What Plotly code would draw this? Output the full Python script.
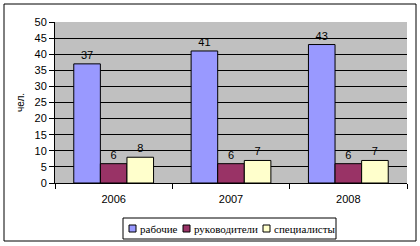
import plotly.graph_objects as go

years = ["2006", "2007", "2008"]
workers = [37, 41, 43]
managers = [6, 6, 6]
specialists = [8, 7, 7]
series_names = ["рабочие", "руководители", "специалисты"]
colors = ["#9999FF", "#993366", "#FFFFCC"]

W, H = 420, 246
L, R, T, B = 55, 13, 22, 63
pw, ph = W - L - R, H - T - B

fig = go.Figure()
for name, vals, c in zip(series_names, [workers, managers, specialists], colors):
    fig.add_trace(go.Bar(
        x=years, y=vals, name=name,
        marker=dict(color=c, line=dict(color="black", width=1)),
        text=[str(v) for v in vals], textposition="outside",
        textfont=dict(color="black", size=11, family="Liberation Sans"),
        cliponaxis=False,
    ))

def px_x(p):
    return (p - L) / pw

def px_y(p):
    return (H - B - p) / ph

# outer chart border
fig.add_shape(type="rect", xref="paper", yref="paper",
              x0=px_x(4), x1=px_x(416), y0=px_y(4), y1=px_y(241),
              line=dict(color="black", width=1), layer="below")

# custom legend box
fig.add_shape(type="rect", xref="paper", yref="paper",
              x0=px_x(123), x1=px_x(336), y0=px_y(218), y1=px_y(239),
              line=dict(color="black", width=1), fillcolor="white")
sq_x = [129, 183, 263]
for name, c, sx in zip(series_names, colors, sq_x):
    fig.add_shape(type="rect", xref="paper", yref="paper",
                  x0=px_x(sx), x1=px_x(sx + 7), y0=px_y(225), y1=px_y(232),
                  line=dict(color="black", width=1), fillcolor=c)
    fig.add_annotation(xref="paper", yref="paper", x=px_x(sx + 9), y=px_y(228.5),
                       xanchor="left", yanchor="middle", showarrow=False,
                       text=name, font=dict(family="Liberation Serif", size=11, color="black"))

fig.update_layout(
    width=W, height=H,
    margin=dict(l=L, r=R, t=T, b=B, autoexpand=False),
    paper_bgcolor="white",
    plot_bgcolor="#C0C0C0",
    barmode="group",
    bargap=0.32,
    bargroupgap=0,
    font=dict(family="Liberation Sans", size=11, color="black"),
    showlegend=False,
    yaxis=dict(range=[0, 50], dtick=5, showgrid=True, gridcolor="black", gridwidth=1,
               showline=True, linecolor="black", ticks="outside", ticklen=5,
               tickcolor="black", zeroline=False,
               title=dict(text="чел.", font=dict(size=10), standoff=8)),
    xaxis=dict(showline=True, linecolor="black", ticks="outside", tickson="boundaries",
               ticklen=5, tickcolor="black", showgrid=False, ticklabelstandoff=6),
)

fig.write_html("out.html")
